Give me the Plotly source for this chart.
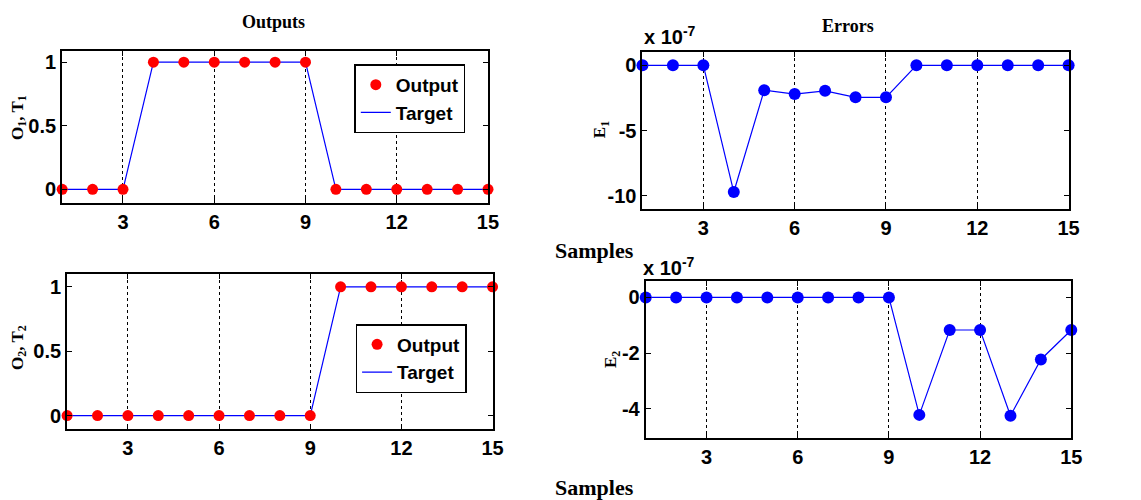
import plotly.graph_objects as go

samples = list(range(1, 16))
target1 = [0, 0, 0, 1, 1, 1, 1, 1, 1, 0, 0, 0, 0, 0, 0]
output1 = [0, 0, 0, 1, 1, 1, 1, 1, 1, 0, 0, 0, 0, 0, 0]
target2 = [0, 0, 0, 0, 0, 0, 0, 0, 0, 1, 1, 1, 1, 1, 1]
output2 = [0, 0, 0, 0, 0, 0, 0, 0, 0, 1, 1, 1, 1, 1, 1]
# errors in units of 1e-7
error1 = [0, 0, 0, -9.7, -1.9, -2.2, -1.95, -2.45, -2.45, 0, 0, 0, 0, 0, 0]
error2 = [0, 0, 0, 0, 0, 0, 0, 0, 0, -4.22, -1.17, -1.17, -4.25, -2.23, -1.17]

x_ticks = [3, 6, 9, 12, 15]

# page body has an 8px margin; size the figure to the remaining area
OFF = 8
W, H = 1141 - OFF, 500 - OFF

BLUE = "rgb(0,0,255)"
RED = "rgb(255,0,0)"
SANS = "Liberation Sans, Arial, sans-serif"
TICKFONT = dict(family=SANS, size=20, color="black", weight="bold")
SERIF = "Liberation Serif, Times New Roman, serif"


def fx(p):
    return (p - OFF) / W


def fy(p):
    return 1 - (p - OFF) / H


def px(x0, x1):
    return [fx(x0), fx(x1)]


def py(top, bottom):
    return [fy(bottom), fy(top)]


fig = go.Figure()

fig.add_trace(go.Scatter(x=samples, y=target1, mode="lines", name="Target",
                         line=dict(color=BLUE, width=1.2), xaxis="x", yaxis="y",
                         legend="legend", legendrank=2))
fig.add_trace(go.Scatter(x=samples, y=output1, mode="markers", name="Output",
                         marker=dict(color=RED, size=11), cliponaxis=False,
                         xaxis="x", yaxis="y", legend="legend", legendrank=1))
fig.add_trace(go.Scatter(x=samples, y=error1, mode="lines+markers", showlegend=False,
                         line=dict(color=BLUE, width=1.2), marker=dict(color=BLUE, size=12),
                         cliponaxis=False, xaxis="x2", yaxis="y2"))
fig.add_trace(go.Scatter(x=samples, y=target2, mode="lines", name="Target",
                         line=dict(color=BLUE, width=1.2), xaxis="x3", yaxis="y3",
                         legend="legend2", legendrank=2))
fig.add_trace(go.Scatter(x=samples, y=output2, mode="markers", name="Output",
                         marker=dict(color=RED, size=11), cliponaxis=False,
                         xaxis="x3", yaxis="y3", legend="legend2", legendrank=1))
fig.add_trace(go.Scatter(x=samples, y=error2, mode="lines+markers", showlegend=False,
                         line=dict(color=BLUE, width=1.2), marker=dict(color=BLUE, size=12),
                         cliponaxis=False, xaxis="x4", yaxis="y4"))

common_x = dict(range=[1, 15], tickvals=x_ticks, ticks="inside", ticklen=5,
                tickcolor="black", showline=True, linecolor="black", linewidth=2,
                mirror="ticks", showgrid=True, gridcolor="black", griddash="dot",
                gridwidth=1, zeroline=False, tickfont=TICKFONT)
common_y = dict(ticks="inside", ticklen=5, tickcolor="black", showline=True,
                linecolor="black", linewidth=2, mirror="ticks", showgrid=False,
                zeroline=False, tickfont=TICKFONT)

LEGFONT = dict(family=SANS, size=19, color="black", weight="bold")

fig.update_layout(
    width=W, height=H,
    margin=dict(l=0, r=0, t=0, b=0),
    paper_bgcolor="white", plot_bgcolor="white",
    xaxis=dict(domain=px(62.7, 492.7), anchor="y", **common_x),
    yaxis=dict(domain=py(50.7, 202.7), anchor="x", range=[-0.105, 1.09],
               tickvals=[0, 0.5, 1], ticktext=["0", "0.5", "1"], **common_y),
    xaxis2=dict(domain=px(648.7, 1079), anchor="y2", **common_x),
    yaxis2=dict(domain=py(52.3, 209), anchor="x2", range=[-11, 1],
                tickvals=[-10, -5, 0], ticktext=["-10", "-5", "0"], **common_y),
    xaxis3=dict(domain=px(67.7, 497.3), anchor="y3", **common_x),
    yaxis3=dict(domain=py(274, 429), anchor="x3", range=[-0.104, 1.1],
                tickvals=[0, 0.5, 1], ticktext=["0", "0.5", "1"], **common_y),
    xaxis4=dict(domain=px(652, 1081.7), anchor="y4", **common_x),
    yaxis4=dict(domain=py(281, 437.7), anchor="x4", range=[-5.04, 0.59],
                tickvals=[-4, -2, 0], ticktext=["-4", "-2", "0"], **common_y),
    legend=dict(x=fx(357.7), y=fy(64.3), xanchor="left", yanchor="top",
                bordercolor="black", borderwidth=1.5, bgcolor="white",
                font=LEGFONT, itemwidth=30, tracegroupgap=0),
    legend2=dict(x=fx(359), y=fy(324), xanchor="left", yanchor="top",
                 bordercolor="black", borderwidth=1.5, bgcolor="white",
                 font=LEGFONT, itemwidth=30, tracegroupgap=0),
    showlegend=True,
)

annots = [
    dict(text="Outputs", x=fx(276), y=fy(22), font=dict(family=SERIF, size=18, weight="bold")),
    dict(text="Errors", x=fx(856), y=fy(26), font=dict(family=SERIF, size=18, weight="bold")),
    dict(text="Samples", x=fx(600), y=fy(250), font=dict(family=SERIF, size=22, weight="bold")),
    dict(text="Samples", x=fx(600), y=fy(487), font=dict(family=SERIF, size=22, weight="bold")),
    dict(text="O<sub>1</sub>, T<sub>1</sub>", x=fx(19), y=fy(117), textangle=-90,
         font=dict(family=SERIF, size=17, weight="bold")),
    dict(text="E<sub>1</sub>", x=fx(607), y=fy(130), textangle=-90,
         font=dict(family=SERIF, size=17, weight="bold")),
    dict(text="O<sub>2</sub>, T<sub>2</sub>", x=fx(19), y=fy(347), textangle=-90,
         font=dict(family=SERIF, size=17, weight="bold")),
    dict(text="E<sub>2</sub>", x=fx(618), y=fy(360), textangle=-90,
         font=dict(family=SERIF, size=17, weight="bold")),
    dict(text="x 10<sup>-7</sup>", x=fx(676), y=fy(36),
         font=dict(family=SANS, size=20, weight="bold")),
    dict(text="x 10<sup>-7</sup>", x=fx(675), y=fy(266),
         font=dict(family=SANS, size=20, weight="bold")),
]
for a in annots:
    a["xref"] = "paper"
    a["yref"] = "paper"
    a["showarrow"] = False
    a["xanchor"] = "center"
    a["yanchor"] = "middle"
    a["font"]["color"] = "black"
    fig.add_annotation(**a)

fig.write_html("out.html")
